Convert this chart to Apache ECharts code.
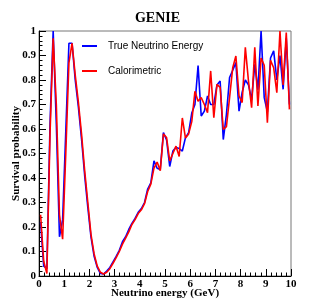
<!DOCTYPE html>
<html>
<head>
<meta charset="utf-8">
<script src="https://cdn.jsdelivr.net/npm/echarts@6/dist/echarts.min.js"></script>
<style>
html,body{margin:0;padding:0;background:#fff;}
#c{width:315px;height:307px;}
</style>
</head>
<body>
<div id="c"></div>
<script>
const energy = [
  0.0625,0.1875,0.3125,0.4375,0.5625,0.6875,0.8125,0.9375,1.0625,1.1875,
  1.3125,1.4375,1.5625,1.6875,1.8125,1.9375,2.0625,2.1875,2.3125,2.4375,
  2.5625,2.6875,2.8125,2.9375,3.0625,3.1875,3.3125,3.4375,3.5625,3.6875,
  3.8125,3.9375,4.0625,4.1875,4.3125,4.4375,4.5625,4.6875,4.8125,4.9375,
  5.0625,5.1875,5.3125,5.4375,5.5625,5.6875,5.8125,5.9375,6.0625,6.1875,
  6.3125,6.4375,6.5625,6.6875,6.8125,6.9375,7.0625,7.1875,7.3125,7.4375,
  7.5625,7.6875,7.8125,7.9375,8.0625,8.1875,8.3125,8.4375,8.5625,8.6875,
  8.8125,8.9375,9.0625,9.1875,9.3125,9.4375,9.5625,9.6875,9.8125,9.9375
];
const trueNeutrinoEnergy = [
  0.22,0.04,0.03,0.62,1.0,0.62,0.16,0.23,0.59,0.95,
  0.95,0.80,0.69,0.56,0.41,0.28,0.16,0.08,0.035,0.01,
  0.008,0.02,0.035,0.058,0.08,0.105,0.14,0.16,0.19,0.215,
  0.235,0.26,0.275,0.30,0.355,0.38,0.47,0.44,0.435,0.585,
  0.555,0.447,0.51,0.525,0.52,0.51,0.565,0.585,0.665,0.70,
  0.859,0.653,0.673,0.735,0.70,0.70,0.78,0.796,0.557,0.66,
  0.81,0.84,0.871,0.673,0.75,0.80,0.78,0.72,0.864,0.76,
  1.0,0.728,0.67,0.89,0.919,0.80,0.90,0.762,0.97,0.70
];
const calorimetric = [
  0.25,0.06,0.01,0.58,0.97,0.70,0.25,0.15,0.50,0.87,
  0.95,0.82,0.71,0.58,0.43,0.30,0.17,0.09,0.04,0.015,
  0.008,0.015,0.03,0.052,0.075,0.10,0.13,0.155,0.18,0.21,
  0.23,0.255,0.27,0.295,0.345,0.375,0.44,0.465,0.43,0.58,
  0.565,0.47,0.50,0.53,0.488,0.645,0.563,0.58,0.63,0.754,
  0.713,0.728,0.70,0.667,0.837,0.646,0.782,0.77,0.598,0.61,
  0.728,0.85,0.898,0.735,0.708,0.933,0.796,0.687,0.933,0.694,
  0.89,0.86,0.626,0.88,0.85,0.748,1.0,0.78,0.994,0.68
];
const seriesNames = ['True Neutrino Energy', 'Calorimetric'];

const serif = 'Liberation Serif';
const sans = 'Liberation Sans';
const chart = echarts.init(document.getElementById('c'), null, {renderer: 'canvas'});
chart.setOption({
  animation: false,
  backgroundColor: '#fff',
  title: {
    text: 'GENIE', left: 'center', top: 6,
    textStyle: {fontFamily: serif, fontWeight: 'bold', fontSize: 14, color: '#000'}
  },
  legend: {
    orient: 'vertical', left: 82, top: 40, padding: 0, itemWidth: 15, itemHeight: 2, itemGap: 13,
    icon: 'rect',
    data: seriesNames,
    textStyle: {fontFamily: sans, fontSize: 10, color: '#000', padding: [0, 0, 0, 6], lineHeight: 12}
  },
  grid: {left: 39, top: 31, right: 24, bottom: 31, containLabel: false, outerBoundsMode: 'none',
         show: true, borderColor: '#777', borderWidth: 1},
  xAxis: {
    type: 'value', min: 0, max: 10, interval: 1,
    name: 'Neutrino energy (GeV)', nameLocation: 'middle', nameGap: 12, nameMoveOverlap: false,
    nameTextStyle: {fontFamily: serif, fontWeight: 'bold', fontSize: 11, color: '#000', verticalAlign: 'top'},
    axisLine: {lineStyle: {color: '#000', width: 1}},
    axisTick: {inside: true, length: 7, lineStyle: {color: '#000'}},
    minorTick: {show: true, splitNumber: 5, length: 3.5, lineStyle: {color: '#000'}},
    splitLine: {show: false},
    axisLabel: {fontFamily: serif, fontWeight: 'bold', fontSize: 11, color: '#000', margin: 3}
  },
  yAxis: {
    type: 'value', min: 0, max: 1, interval: 0.1,
    name: 'Survival probability', nameLocation: 'middle', nameGap: 17, nameMoveOverlap: false,
    nameTextStyle: {fontFamily: serif, fontWeight: 'bold', fontSize: 11, color: '#000'},
    axisLine: {show: true, lineStyle: {color: '#000', width: 1}},
    axisTick: {show: true, inside: true, length: 7, lineStyle: {color: '#000'}},
    minorTick: {show: true, splitNumber: 5, length: 3.5, lineStyle: {color: '#000'}},
    splitLine: {show: false},
    axisLabel: {fontFamily: serif, fontWeight: 'bold', fontSize: 11, color: '#000', margin: 3,
      formatter: v => String(Math.round(v * 10) / 10)}
  },
  series: [
    {name: seriesNames[0], type: 'line', showSymbol: false, symbol: 'none',
     data: energy.map((e, i) => [e, trueNeutrinoEnergy[i]]),
     lineStyle: {color: '#0000ff', width: 1.6}, itemStyle: {color: '#0000ff'}},
    {name: seriesNames[1], type: 'line', showSymbol: false, symbol: 'none',
     data: energy.map((e, i) => [e, calorimetric[i]]),
     lineStyle: {color: '#ff0000', width: 1.6}, itemStyle: {color: '#ff0000'}}
  ]
});
</script>
</body>
</html>
